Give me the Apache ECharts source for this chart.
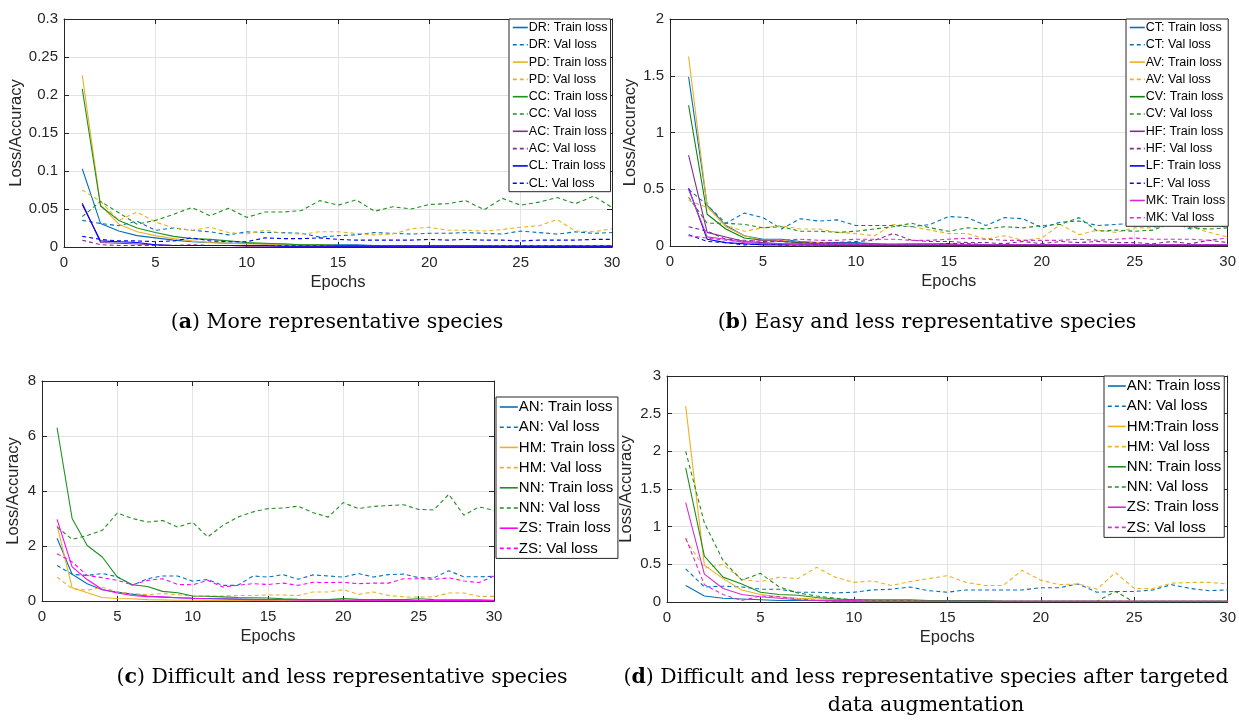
<!DOCTYPE html>
<html><head><meta charset="utf-8">
<script src="https://cdn.jsdelivr.net/npm/echarts@6/dist/echarts.min.js"></script>
<style>html,body{margin:0;padding:0;background:#fff}#c{width:1239px;height:726px}</style>
</head><body><div id="c"></div>
<script>
const epochs = [1,2,3,4,5,6,7,8,9,10,11,12,13,14,15,16,17,18,19,20,21,22,23,24,25,26,27,28,29,30];

// (a) More representative species
const a_DR_train = [0.103,0.031,0.021,0.015,0.012,0.009,0.007,0.006,0.005,0.005,0.004,0.004,0.003,0.003,0.003,0.003,0.002,0.002,0.002,0.002,0.002,0.002,0.002,0.001,0.001,0.001,0.001,0.001,0.001,0.001];
const a_DR_val   = [0.035,0.031,0.028,0.034,0.022,0.025,0.022,0.020,0.016,0.020,0.019,0.019,0.018,0.013,0.015,0.016,0.019,0.018,0.017,0.018,0.018,0.019,0.018,0.017,0.021,0.019,0.017,0.020,0.018,0.019];
const a_PD_train = [0.226,0.055,0.030,0.020,0.015,0.011,0.008,0.006,0.005,0.004,0.004,0.003,0.003,0.003,0.002,0.002,0.002,0.002,0.002,0.002,0.002,0.001,0.001,0.001,0.001,0.001,0.001,0.001,0.001,0.001];
const a_PD_val   = [0.075,0.060,0.035,0.046,0.033,0.025,0.022,0.026,0.019,0.017,0.022,0.018,0.017,0.020,0.020,0.018,0.016,0.017,0.024,0.026,0.022,0.022,0.021,0.023,0.026,0.028,0.036,0.021,0.020,0.024];
const a_CC_train = [0.208,0.054,0.035,0.025,0.019,0.014,0.011,0.010,0.008,0.006,0.005,0.004,0.003,0.003,0.002,0.002,0.002,0.002,0.002,0.002,0.002,0.002,0.001,0.001,0.001,0.001,0.001,0.001,0.001,0.001];
const a_CC_val   = [0.040,0.060,0.045,0.030,0.035,0.043,0.052,0.041,0.051,0.039,0.046,0.046,0.048,0.061,0.055,0.062,0.047,0.053,0.050,0.056,0.057,0.061,0.049,0.064,0.055,0.059,0.065,0.057,0.067,0.052];
const a_AC_train = [0.058,0.006,0.005,0.004,0.003,0.002,0.002,0.002,0.002,0.001,0.001,0.001,0.001,0.001,0.001,0.001,0.001,0.001,0.001,0.001,0.001,0.001,0.001,0.001,0.001,0.001,0.001,0.001,0.001,0.001];
const a_AC_val   = [0.009,0.003,0.002,0.002,0.002,0.002,0.003,0.002,0.002,0.002,0.002,0.002,0.002,0.002,0.002,0.002,0.002,0.002,0.002,0.002,0.002,0.002,0.002,0.002,0.002,0.002,0.002,0.002,0.002,0.002];
const a_CL_train = [0.056,0.008,0.007,0.006,0.003,0.002,0.002,0.002,0.002,0.002,0.002,0.001,0.001,0.001,0.001,0.001,0.001,0.001,0.001,0.001,0.001,0.001,0.001,0.001,0.001,0.001,0.001,0.001,0.001,0.001];
const a_CL_val   = [0.014,0.010,0.008,0.008,0.007,0.008,0.012,0.008,0.007,0.007,0.012,0.011,0.011,0.012,0.010,0.009,0.009,0.009,0.009,0.010,0.009,0.010,0.009,0.009,0.008,0.009,0.009,0.009,0.010,0.010];

// (b) Easy and less representative species
const b_CT_train = [1.49,0.36,0.18,0.09,0.06,0.06,0.04,0.03,0.03,0.03,0.02,0.02,0.02,0.02,0.02,0.01,0.01,0.01,0.01,0.01,0.01,0.01,0.01,0.01,0.01,0.01,0.01,0.01,0.01,0.01];
const b_CT_val   = [0.50,0.36,0.20,0.29,0.25,0.15,0.24,0.22,0.23,0.18,0.18,0.18,0.17,0.19,0.26,0.25,0.18,0.25,0.24,0.16,0.21,0.22,0.18,0.19,0.20,0.20,0.21,0.15,0.21,0.16];
const b_AV_train = [1.67,0.35,0.17,0.09,0.05,0.05,0.03,0.03,0.02,0.02,0.02,0.02,0.01,0.01,0.01,0.01,0.01,0.01,0.01,0.01,0.01,0.01,0.01,0.01,0.01,0.01,0.01,0.01,0.01,0.01];
const b_AV_val   = [0.40,0.34,0.18,0.13,0.16,0.18,0.15,0.15,0.12,0.11,0.09,0.19,0.17,0.14,0.11,0.11,0.06,0.09,0.05,0.07,0.19,0.10,0.14,0.12,0.16,0.16,0.18,0.17,0.12,0.08];
const b_CV_train = [1.24,0.28,0.15,0.07,0.05,0.04,0.03,0.02,0.02,0.02,0.02,0.01,0.01,0.01,0.01,0.01,0.01,0.01,0.01,0.01,0.01,0.01,0.01,0.01,0.01,0.01,0.01,0.01,0.01,0.01];
const b_CV_val   = [0.43,0.20,0.20,0.19,0.16,0.17,0.13,0.13,0.12,0.13,0.15,0.17,0.20,0.16,0.13,0.16,0.15,0.17,0.16,0.18,0.19,0.25,0.13,0.14,0.13,0.14,0.21,0.16,0.15,0.16];
const b_HF_train = [0.80,0.12,0.08,0.04,0.03,0.02,0.02,0.01,0.01,0.01,0.01,0.01,0.01,0.01,0.01,0.01,0.01,0.01,0.01,0.01,0.01,0.01,0.01,0.01,0.01,0.01,0.01,0.01,0.01,0.01];
const b_HF_val   = [0.17,0.13,0.06,0.05,0.04,0.04,0.03,0.03,0.03,0.04,0.05,0.11,0.05,0.04,0.04,0.03,0.03,0.02,0.04,0.02,0.04,0.03,0.04,0.03,0.03,0.02,0.04,0.02,0.05,0.03];
const b_LF_train = [0.51,0.06,0.03,0.02,0.01,0.01,0.01,0.01,0.005,0.005,0.005,0.005,0.005,0.005,0.005,0.005,0.005,0.005,0.005,0.005,0.005,0.005,0.005,0.005,0.005,0.005,0.005,0.005,0.005,0.005];
const b_LF_val   = [0.10,0.04,0.03,0.01,0.02,0.01,0.01,0.01,0.01,0.01,0.01,0.01,0.01,0.01,0.02,0.02,0.01,0.01,0.01,0.01,0.01,0.01,0.01,0.01,0.01,0.01,0.01,0.01,0.01,0.01];
const b_MK_train = [0.50,0.08,0.06,0.03,0.02,0.02,0.01,0.01,0.01,0.01,0.01,0.01,0.01,0.01,0.01,0.01,0.01,0.01,0.01,0.01,0.01,0.01,0.01,0.01,0.01,0.01,0.01,0.01,0.01,0.01];
const b_MK_val   = [0.09,0.07,0.05,0.04,0.05,0.05,0.06,0.05,0.05,0.06,0.06,0.06,0.05,0.05,0.06,0.07,0.06,0.05,0.05,0.05,0.05,0.06,0.05,0.06,0.07,0.06,0.06,0.06,0.05,0.07];

// (c) Difficult and less representative species
const c_AN_train = [2.28,0.97,0.63,0.41,0.33,0.25,0.18,0.14,0.12,0.10,0.09,0.08,0.07,0.06,0.05,0.05,0.04,0.04,0.04,0.03,0.03,0.03,0.03,0.03,0.02,0.02,0.02,0.02,0.02,0.02];
const c_AN_val   = [1.29,0.97,0.93,1.00,0.88,0.57,0.81,0.91,0.91,0.72,0.78,0.57,0.57,0.91,0.87,0.96,0.79,0.95,0.91,0.87,1.00,0.87,0.96,0.98,0.85,0.84,1.10,0.88,0.88,0.90];
const c_HM_train = [2.75,0.48,0.30,0.13,0.09,0.08,0.05,0.04,0.03,0.03,0.02,0.02,0.02,0.02,0.02,0.01,0.01,0.01,0.01,0.01,0.01,0.01,0.01,0.01,0.01,0.01,0.01,0.01,0.01,0.01];
const c_HM_val   = [0.87,0.45,0.39,0.50,0.33,0.27,0.23,0.27,0.23,0.18,0.18,0.18,0.20,0.20,0.22,0.22,0.20,0.33,0.33,0.41,0.24,0.33,0.20,0.15,0.14,0.15,0.29,0.29,0.17,0.17];
const c_NN_train = [6.30,3.00,2.02,1.60,0.87,0.59,0.53,0.35,0.30,0.18,0.17,0.15,0.13,0.12,0.11,0.08,0.06,0.05,0.05,0.09,0.06,0.05,0.05,0.05,0.08,0.05,0.04,0.04,0.04,0.03];
const c_NN_val   = [2.69,2.24,2.38,2.57,3.20,3.00,2.87,2.93,2.69,2.86,2.33,2.75,3.05,3.24,3.36,3.38,3.45,3.21,3.05,3.58,3.36,3.44,3.47,3.50,3.33,3.31,3.88,3.12,3.42,3.30];
const c_ZS_train = [2.97,1.24,0.78,0.42,0.29,0.20,0.16,0.15,0.12,0.10,0.08,0.07,0.06,0.05,0.05,0.05,0.04,0.04,0.04,0.03,0.03,0.03,0.03,0.03,0.02,0.02,0.02,0.02,0.02,0.02];
const c_ZS_val   = [1.72,1.42,0.93,0.85,0.75,0.59,0.75,0.81,0.60,0.59,0.75,0.51,0.57,0.63,0.60,0.65,0.57,0.68,0.67,0.68,0.63,0.65,0.65,0.81,0.81,0.79,0.84,0.73,0.67,0.91];

// (d) after targeted data augmentation
const d_AN_train = [0.22,0.08,0.05,0.04,0.03,0.02,0.02,0.02,0.01,0.01,0.01,0.01,0.01,0.01,0.01,0.01,0.01,0.01,0.01,0.01,0.01,0.01,0.01,0.01,0.01,0.01,0.01,0.01,0.01,0.01];
const d_AN_val   = [0.44,0.20,0.21,0.20,0.17,0.17,0.13,0.13,0.12,0.13,0.16,0.17,0.20,0.15,0.13,0.16,0.16,0.16,0.16,0.19,0.19,0.24,0.13,0.14,0.14,0.16,0.23,0.18,0.15,0.16];
const d_HM_train = [2.60,0.49,0.31,0.16,0.10,0.07,0.05,0.04,0.03,0.03,0.02,0.02,0.02,0.02,0.02,0.01,0.01,0.01,0.01,0.01,0.01,0.01,0.01,0.01,0.01,0.01,0.01,0.01,0.01,0.01];
const d_HM_val   = [0.83,0.45,0.50,0.30,0.27,0.33,0.31,0.46,0.33,0.26,0.28,0.22,0.27,0.31,0.35,0.26,0.22,0.22,0.42,0.29,0.23,0.24,0.17,0.39,0.18,0.18,0.25,0.26,0.26,0.24];
const d_NN_train = [1.78,0.61,0.33,0.24,0.13,0.10,0.09,0.06,0.04,0.03,0.03,0.03,0.03,0.02,0.02,0.02,0.02,0.01,0.01,0.01,0.01,0.01,0.01,0.01,0.01,0.01,0.01,0.01,0.01,0.01];
const d_NN_val   = [2.00,1.05,0.55,0.29,0.38,0.20,0.12,0.08,0.05,0.03,0.02,0.02,0.02,0.02,0.02,0.02,0.01,0.01,0.01,0.01,0.01,0.01,0.01,0.14,0.00,0.00,0.00,0.00,0.00,0.00];
const d_ZS_train = [1.32,0.37,0.18,0.10,0.07,0.05,0.03,0.02,0.02,0.02,0.01,0.01,0.01,0.01,0.01,0.01,0.01,0.01,0.01,0.01,0.01,0.01,0.01,0.01,0.01,0.01,0.01,0.01,0.01,0.01];
const d_ZS_val   = [0.85,0.23,0.10,0.02,0.08,0.07,0.04,0.02,0.01,0.01,0.01,0.01,0.01,0.01,0.01,0.01,0.01,0.01,0.01,0.01,0.01,0.01,0.01,0.01,0.01,0.01,0.01,0.01,0.01,0.01];

const C_BLUE = '#0072BD', C_ORANGE = '#EDB120', C_GREEN = '#1f8f1f', C_PURPLE = '#7E2F8E', C_PURE = '#0000FF', C_MAG = '#FF00FF', C_MAG2 = '#D22FD2';

const panels = [
  { key:'a', yMax:0.3, yInt:0.05, grid:{left:64, top:19, width:548, height:228},
    legend:{left:509, top:19, font:12.5, lh:12, gap:4.3, iw:15},
    series:[
      ['DR: Train loss', a_DR_train, C_BLUE, false], ['DR: Val loss', a_DR_val, C_BLUE, true],
      ['PD: Train loss', a_PD_train, C_ORANGE, false], ['PD: Val loss', a_PD_val, C_ORANGE, true],
      ['CC: Train loss', a_CC_train, C_GREEN, false], ['CC: Val loss', a_CC_val, C_GREEN, true],
      ['AC: Train loss', a_AC_train, C_PURPLE, false], ['AC: Val loss', a_AC_val, C_PURPLE, true],
      ['CL: Train loss', a_CL_train, C_PURE, false], ['CL: Val loss', a_CL_val, C_PURE, true]
    ], yNameGap:37, caption:'({b|a}) More representative species', cx:337, cy:323 },
  { key:'b', yMax:2, yInt:0.5, grid:{left:670, top:19, width:559, height:227},
    legend:{left:1126, top:19, font:12.5, lh:12, gap:4.3, iw:15},
    series:[
      ['CT: Train loss', b_CT_train, C_BLUE, false], ['CT: Val loss', b_CT_val, C_BLUE, true],
      ['AV: Train loss', b_AV_train, C_ORANGE, false], ['AV: Val loss', b_AV_val, C_ORANGE, true],
      ['CV: Train loss', b_CV_train, '#0b800b', false], ['CV: Val loss', b_CV_val, C_GREEN, true],
      ['HF: Train loss', b_HF_train, C_PURPLE, false], ['HF: Val loss', b_HF_val, C_PURPLE, true],
      ['LF: Train loss', b_LF_train, C_PURE, false], ['LF: Val loss', b_LF_val, C_PURE, true],
      ['MK: Train loss', b_MK_train, C_MAG2, false], ['MK: Val loss', b_MK_val, C_MAG2, true]
    ], yNameGap:31, caption:'({b|b}) Easy and less representative species', cx:927, cy:323 },
  { key:'c', yMax:8, yInt:2, grid:{left:42, top:381, width:452, height:220},
    legend:{left:496, top:397, font:15, lh:16, gap:4.2, iw:18},
    series:[
      ['AN: Train loss', c_AN_train, C_BLUE, false], ['AN: Val loss', c_AN_val, C_BLUE, true],
      ['HM: Train loss', c_HM_train, C_ORANGE, false], ['HM: Val loss', c_HM_val, C_ORANGE, true],
      ['NN: Train loss', c_NN_train, C_GREEN, false], ['NN: Val loss', c_NN_val, C_GREEN, true],
      ['ZS: Train loss', c_ZS_train, C_MAG, false], ['ZS: Val loss', c_ZS_val, C_MAG, true]
    ], yNameGap:20, caption:'({b|c}) Difficult and less representative species', cx:342, cy:678 },
  { key:'d', yMax:3, yInt:0.5, grid:{left:667, top:376, width:561, height:226},
    legend:{left:1104, top:376, font:15, lh:16, gap:4.2, iw:18},
    series:[
      ['AN: Train loss', d_AN_train, C_BLUE, false], ['AN: Val loss', d_AN_val, C_BLUE, true],
      ['HM:Train loss', d_HM_train, C_ORANGE, false], ['HM: Val loss', d_HM_val, C_ORANGE, true],
      ['NN: Train loss', d_NN_train, C_GREEN, false], ['NN: Val loss', d_NN_val, C_GREEN, true],
      ['ZS: Train loss', d_ZS_train, C_MAG2, false], ['ZS: Val loss', d_ZS_val, C_MAG2, true]
    ], yNameGap:32, caption:'({b|d}) Difficult and less representative species after targeted\ndata augmentation', cx:926, cy:692 }
];

const AX = '#262626', GRIDC = '#e3e3e3', FONT = 'Liberation Sans, Arial, sans-serif';
const SERIF = 'DejaVu Serif, serif';
const option = { animation:false, backgroundColor:'#fff', grid:[], xAxis:[], yAxis:[], series:[], legend:[], graphic:[] };

panels.forEach((p, g) => {
  option.grid.push(Object.assign({ containLabel:false }, p.grid));
});
panels.forEach((p, g) => {
  option.xAxis.push({ type:'value', gridIndex:g, min:0, max:30, interval:5,
    name:'Epochs', nameLocation:'middle', nameGap:27, nameTextStyle:{color:AX, fontSize:16.5, fontFamily:FONT},
    axisLine:{show:true, lineStyle:{color:AX, width:1}}, axisTick:{show:true, inside:true, length:5, lineStyle:{color:AX}},
    axisLabel:{color:AX, fontSize:15, fontFamily:FONT, margin:8},
    splitLine:{show:true, lineStyle:{color:GRIDC, width:1}} });
  option.yAxis.push({ type:'value', gridIndex:g, min:0, max:p.yMax, interval:p.yInt,
    name:'Loss/Accuracy', nameLocation:'middle', nameGap:p.yNameGap, nameTextStyle:{color:AX, fontSize:16.5, fontFamily:FONT},
    axisLine:{show:true, lineStyle:{color:AX, width:1}}, axisTick:{show:true, inside:true, length:5, lineStyle:{color:AX}},
    axisLabel:{color:AX, fontSize:15, fontFamily:FONT, margin:6},
    splitLine:{show:true, lineStyle:{color:GRIDC, width:1}} });
});
panels.forEach((p, g) => {
  option.xAxis.push({ type:'value', gridIndex:g, position:'top', min:0, max:30, interval:5,
    axisLine:{show:true, onZero:false, lineStyle:{color:AX, width:1}}, axisTick:{show:true, inside:true, length:5, lineStyle:{color:AX}},
    axisLabel:{show:false}, splitLine:{show:false} });
  option.yAxis.push({ type:'value', gridIndex:g, position:'right', min:0, max:p.yMax, interval:p.yInt,
    axisLine:{show:true, onZero:false, lineStyle:{color:AX, width:1}}, axisTick:{show:true, inside:true, length:5, lineStyle:{color:AX}},
    axisLabel:{show:false}, splitLine:{show:false} });
});

panels.forEach((p, g) => {
  const names = [];
  p.series.forEach(([name, arr, color, dashed]) => {
    const id = p.key + '|' + name;
    names.push(id);
    option.series.push({ type:'line', name:id, xAxisIndex:g, yAxisIndex:g, symbol:'none', silent:true,
      data: epochs.map((e, i) => [e, arr[i]]), color:color,
      lineStyle:{ color:color, width:1.1, type: dashed ? [4,3] : 'solid' } });
  });
  const L = p.legend;
  option.legend.push({ data:names, orient:'vertical', left:L.left, top:L.top, selectedMode:false,
    formatter: n => n.split('|')[1],
    backgroundColor:'#fff', borderColor:AX, borderWidth:1, padding:[2,3,2,3],
    itemWidth:L.iw, itemHeight:L.lh, itemGap:L.gap,
    itemStyle:{ opacity:0 },
    lineStyle:{ width:1.6 },
    textStyle:{ color:'#000', fontSize:L.font, lineHeight:L.lh, fontFamily:FONT, padding:[0,0,0,-4] } });
  option.graphic.push({ type:'text', x:p.cx, y:p.cy, z:100,
    style:{ text:p.caption, align:'center', verticalAlign:'middle', fill:'#000',
      fontSize:20.5, fontFamily:SERIF, lineHeight:28,
      rich:{ b:{ fontWeight:'bold', fontSize:20.5, fontFamily:SERIF, fill:'#000' } } } });
});

const chart = echarts.init(document.getElementById('c'), null, {renderer:'canvas'});
chart.setOption(option);
</script></body></html>
